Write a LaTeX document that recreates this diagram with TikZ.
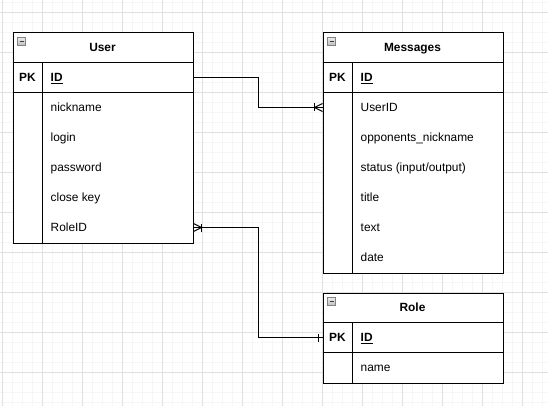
\documentclass[tikz,border=0pt]{standalone}
\usepackage{fontspec}
\setmainfont{Liberation Sans}
\usetikzlibrary{calc}
\begin{document}
\begin{tikzpicture}[x=1pt,y=-1pt,
  frame/.style={draw, line width=1pt, anchor=north west, inner sep=0pt, minimum width=180pt},
  ttl/.style={font=\fontsize{11.9}{14}\selectfont\bfseries, text height=8.5pt, text depth=0pt, inner sep=0pt},
  pkey/.style={font=\fontsize{11.9}{14}\selectfont\bfseries, text height=8.5pt, text depth=0pt, inner sep=0pt},
  field/.style={font=\fontsize{11.9}{14}\selectfont, anchor=west, text height=8.5pt, text depth=0pt, inner sep=0pt},
  keyfield/.style={field, font=\fontsize{11.9}{14}\selectfont\bfseries},
  sep/.style={line width=1pt},
  conn/.style={line width=1pt},
  minorgrid/.style={draw={rgb,255:red,246;green,246;blue,246}, line width=1pt},
  majorgrid/.style={draw={rgb,255:red,224;green,224;blue,224}, line width=1pt},
  pics/collapsebox/.style={code={
    \draw[draw={rgb,255:red,130;green,130;blue,130}, line width=0.8pt,
          top color={rgb,255:red,235;green,235;blue,235}, bottom color={rgb,255:red,190;green,190;blue,195}]
          (0,0) rectangle (8,8);
    \draw[draw={rgb,255:red,60;green,60;blue,60}, line width=1pt] (2,4) -- (6,4);
  }}
]
\useasboundingbox (0,0) rectangle (548,406);
\fill[white] (0,0) rectangle (548,406);
% grid
\foreach \x in {2.5,12.5,...,542.5} \draw[minorgrid] (\x,0) -- (\x,406);
\foreach \y in {2.5,12.5,...,402.5} \draw[minorgrid] (0,\y) -- (548,\y);
\foreach \x in {2.5,42.5,...,522.5} \draw[majorgrid] (\x,0) -- (\x,406);
\foreach \y in {12.5,52.5,...,372.5} \draw[majorgrid] (0,\y) -- (548,\y);

% ---------- User ----------
\node[frame, fill=white, minimum height=210pt] (user) at (12.5,32.5) {};
\draw[sep] (12.5,62.5) -- (192.5,62.5);
\draw[sep] (12.5,92.5) -- (192.5,92.5);
\draw[sep] (42.5,62.5) -- (42.5,242.5);
\pic at (17.5,37.5) {collapsebox};
\node[ttl] (usert) at (102.5,47.5) {User};
\node[pkey] (userpk) at (27.5,77.5) {PK};
\node[keyfield] (uid) at (50.5,77.5) {\underline{ID}};
\node[field] (unick) at (50.5,107.5) {nickname};
\node[field] (ulogin) at (50.5,137.5) {login};
\node[field] (upass) at (50.5,167.5) {password};
\node[field] (ukey) at (50.5,197.5) {close key};
\node[field] (urole) at (50.5,227.5) {RoleID};

% ---------- Messages ----------
\node[frame, fill=white, minimum height=240pt] (msg) at (322.5,32.5) {};
\draw[sep] (322.5,62.5) -- (502.5,62.5);
\draw[sep] (322.5,92.5) -- (502.5,92.5);
\draw[sep] (352.5,62.5) -- (352.5,272.5);
\pic at (327.5,37.5) {collapsebox};
\node[ttl] (msgt) at (412.5,47.5) {Messages};
\node[pkey] (msgpk) at (337.5,77.5) {PK};
\node[keyfield] (mid) at (360.5,77.5) {\underline{ID}};
\node[field] (muser) at (360.5,107.5) {UserID};
\node[field] (mopp) at (360.5,137.5) {opponents\_nickname};
\node[field] (mstat) at (360.5,167.5) {status (input/output)};
\node[field] (mtitle) at (360.5,197.5) {title};
\node[field] (mtext) at (360.5,227.5) {text};
\node[field] (mdate) at (360.5,257.5) {date};

% ---------- Role ----------
\node[frame, fill=white, minimum height=90pt] (role) at (322.5,292.5) {};
\draw[sep] (322.5,322.5) -- (502.5,322.5);
\draw[sep] (322.5,352.5) -- (502.5,352.5);
\draw[sep] (352.5,322.5) -- (352.5,382.5);
\pic at (327.5,297.5) {collapsebox};
\node[ttl] (rolet) at (412.5,307.5) {Role};
\node[pkey] (rolepk) at (337.5,337.5) {PK};
\node[keyfield] (rid) at (360.5,337.5) {\underline{ID}};
\node[field] (rname) at (360.5,367.5) {name};

% ---------- connectors ----------
\coordinate (a1) at (user.east |- uid);
\coordinate (a2) at (msg.west |- muser);
\draw[conn] (a1) -- ++(65,0) |- (a2);
\draw[conn] ($(a2)+(-8,-4)$) -- ++(0,8);
\draw[conn] ($(a2)+(0,-4)$) -- ($(a2)+(-8,0)$) -- ($(a2)+(0,4)$);

\coordinate (b1) at (user.east |- urole);
\coordinate (b2) at (role.west |- rid);
\draw[conn] (b1) -- ++(65,0) |- (b2);
\draw[conn] ($(b1)+(8,-4)$) -- ++(0,8);
\draw[conn] ($(b1)+(0,-4)$) -- ($(b1)+(8,0)$) -- ($(b1)+(0,4)$);
\draw[conn] ($(b2)+(-4,-4)$) -- ++(0,8);
\end{tikzpicture}
\end{document}
